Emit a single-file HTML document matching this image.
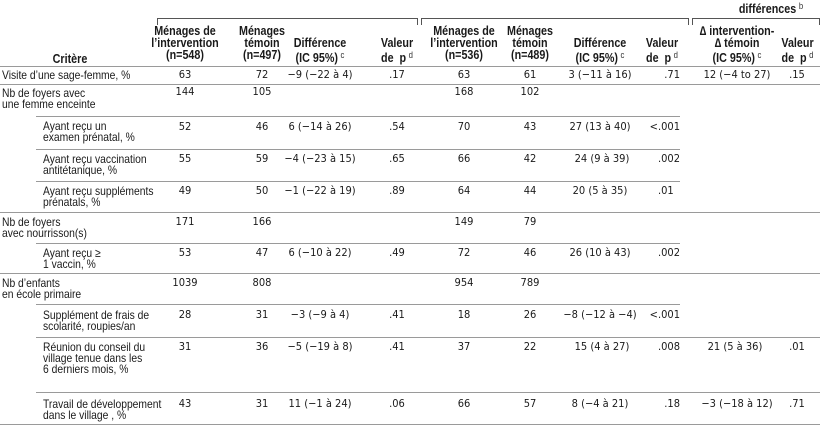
<!DOCTYPE html>
<html><head><meta charset="utf-8"><style>
body{margin:0;width:820px;height:427px;background:#fff;position:relative;overflow:hidden;font-family:"Liberation Sans",sans-serif;color:#1a1a1a}
.t{position:absolute;font-size:12px;line-height:11px;white-space:nowrap;transform:scaleX(0.86);transform-origin:left top}
.h{position:absolute;font-size:12.5px;font-weight:bold;line-height:12px;text-align:center;white-space:nowrap;transform:scaleX(0.86);transform-origin:center top}
.n{position:absolute;font-family:"DejaVu Sans Condensed","DejaVu Sans",sans-serif;font-size:11px;line-height:12px;text-align:center;width:100px;white-space:nowrap}
.l{position:absolute;height:1px;background:#9a9a9a}
sup{font-size:9px;font-weight:normal;vertical-align:4px;margin-left:3px;color:#333}
.br{position:absolute;top:18px;height:6px;border:1px solid #555;border-bottom:none}
</style></head><body>
<div class="h" style="top:0;width:90px;left:726px">différences<sup>b</sup></div>
<div class="br" style="left:157px;width:259px"></div>
<div class="br" style="left:421px;width:266px"></div>
<div class="br" style="left:692px;width:126px"></div>

<div class="h" style="left:35px;top:53px;width:70px">Critère</div>
<div class="h" style="left:105px;top:25px;width:160px">Ménages de<br>l’intervention<br>(n=548)</div>
<div class="h" style="left:212px;top:25px;width:100px">Ménages<br>témoin<br>(n=497)</div>
<div class="h" style="left:265px;top:37px;width:110px">Différence<br>(IC 95%)<sup>c</sup></div>
<div class="h" style="left:362px;top:37px;width:70px">Valeur<br>de &nbsp;p<sup>d</sup></div>
<div class="h" style="left:384px;top:25px;width:160px">Ménages de<br>l’intervention<br>(n=536)</div>
<div class="h" style="left:480px;top:25px;width:100px">Ménages<br>témoin<br>(n=489)</div>
<div class="h" style="left:545px;top:37px;width:110px">Différence<br>(IC 95%)<sup>c</sup></div>
<div class="h" style="left:627px;top:37px;width:70px">Valeur<br>de &nbsp;p<sup>d</sup></div>
<div class="h" style="left:672px;top:25px;width:130px">∆ intervention-<br>∆ témoin<br>(IC 95%)<sup>c</sup></div>
<div class="h" style="left:765px;top:37px;width:65px">Valeur<br>de &nbsp;p<sup>d</sup></div>

<div class="l" style="left:0;width:820px;top:66px"></div>
<div class="l" style="left:0;width:820px;top:84px"></div>
<div class="l" style="left:36px;width:644px;top:116px"></div>
<div class="l" style="left:36px;width:644px;top:149px"></div>
<div class="l" style="left:36px;width:644px;top:181px"></div>
<div class="l" style="left:0;width:820px;top:212px"></div>
<div class="l" style="left:36px;width:644px;top:243px"></div>
<div class="l" style="left:0;width:820px;top:273px"></div>
<div class="l" style="left:36px;width:644px;top:304px"></div>
<div class="l" style="left:36px;width:784px;top:337px"></div>
<div class="l" style="left:36px;width:784px;top:392px"></div>
<div class="l" style="left:0;width:820px;top:424px"></div>

<div class="t" style="left:2px;top:70px">Visite d’une sage-femme, %</div>
<div class="t" style="left:2px;top:88px">Nb de foyers avec<br>une femme enceinte</div>
<div class="t" style="left:43px;top:121px">Ayant reçu un<br>examen prénatal, %</div>
<div class="t" style="left:43px;top:154px">Ayant reçu vaccination<br>antitétanique, %</div>
<div class="t" style="left:43px;top:186px">Ayant reçu suppléments<br>prénatals, %</div>
<div class="t" style="left:2px;top:217px">Nb de foyers<br>avec nourrisson(s)</div>
<div class="t" style="left:43px;top:248px">Ayant reçu ≥<br>1 vaccin, %</div>
<div class="t" style="left:2px;top:278px">Nb d’enfants<br>en école primaire</div>
<div class="t" style="left:43px;top:310px">Supplément de frais de<br>scolarité, roupies/an</div>
<div class="t" style="left:43px;top:342px">Réunion du conseil du<br>village tenue dans les<br>6 derniers mois, %</div>
<div class="t" style="left:43px;top:399px">Travail de développement<br>dans le village , %</div>

<div class="n" style="left:135px;top:69px">63</div><div class="n" style="left:212px;top:69px">72</div><div class="n" style="left:270px;top:69px">−9 (−22 à 4)</div><div class="n" style="left:347px;top:69px">.17</div>
<div class="n" style="left:414px;top:69px">63</div><div class="n" style="left:480px;top:69px">61</div><div class="n" style="left:550px;top:69px">3 (−11 à 16)</div><div class="n" style="left:580px;top:69px;text-align:right">.71</div><div class="n" style="left:687px;top:69px">12 (−4 to 27)</div><div class="n" style="left:747px;top:69px">.15</div>

<div class="n" style="left:135px;top:86px">144</div><div class="n" style="left:212px;top:86px">105</div><div class="n" style="left:414px;top:86px">168</div><div class="n" style="left:480px;top:86px">102</div>

<div class="n" style="left:135px;top:121px">52</div><div class="n" style="left:212px;top:121px">46</div><div class="n" style="left:270px;top:121px">6 (−14 à 26)</div><div class="n" style="left:347px;top:121px">.54</div>
<div class="n" style="left:414px;top:121px">70</div><div class="n" style="left:480px;top:121px">43</div><div class="n" style="left:550px;top:121px">27 (13 à 40)</div><div class="n" style="left:580px;top:121px;text-align:right">&lt;.001</div>

<div class="n" style="left:135px;top:153px">55</div><div class="n" style="left:212px;top:153px">59</div><div class="n" style="left:270px;top:153px">−4 (−23 à 15)</div><div class="n" style="left:347px;top:153px">.65</div>
<div class="n" style="left:414px;top:153px">66</div><div class="n" style="left:480px;top:153px">42</div><div class="n" style="left:552px;top:153px">24 (9 à 39)</div><div class="n" style="left:580px;top:153px;text-align:right">.002</div>

<div class="n" style="left:135px;top:185px">49</div><div class="n" style="left:212px;top:185px">50</div><div class="n" style="left:270px;top:185px">−1 (−22 à 19)</div><div class="n" style="left:347px;top:185px">.89</div>
<div class="n" style="left:414px;top:185px">64</div><div class="n" style="left:480px;top:185px">44</div><div class="n" style="left:550px;top:185px">20 (5 à 35)</div><div class="n" style="left:658px;top:185px;text-align:left">.01</div>

<div class="n" style="left:135px;top:216px">171</div><div class="n" style="left:212px;top:216px">166</div><div class="n" style="left:414px;top:216px">149</div><div class="n" style="left:480px;top:216px">79</div>

<div class="n" style="left:135px;top:247px">53</div><div class="n" style="left:212px;top:247px">47</div><div class="n" style="left:270px;top:247px">6 (−10 à 22)</div><div class="n" style="left:347px;top:247px">.49</div>
<div class="n" style="left:414px;top:247px">72</div><div class="n" style="left:480px;top:247px">46</div><div class="n" style="left:550px;top:247px">26 (10 à 43)</div><div class="n" style="left:580px;top:247px;text-align:right">.002</div>

<div class="n" style="left:135px;top:277px">1039</div><div class="n" style="left:212px;top:277px">808</div><div class="n" style="left:414px;top:277px">954</div><div class="n" style="left:480px;top:277px">789</div>

<div class="n" style="left:135px;top:309px">28</div><div class="n" style="left:212px;top:309px">31</div><div class="n" style="left:270px;top:309px">−3 (−9 à 4)</div><div class="n" style="left:347px;top:309px">.41</div>
<div class="n" style="left:414px;top:309px">18</div><div class="n" style="left:480px;top:309px">26</div><div class="n" style="left:550px;top:309px">−8 (−12 à −4)</div><div class="n" style="left:580px;top:309px;text-align:right">&lt;.001</div>

<div class="n" style="left:135px;top:341px">31</div><div class="n" style="left:212px;top:341px">36</div><div class="n" style="left:270px;top:341px">−5 (−19 à 8)</div><div class="n" style="left:347px;top:341px">.41</div>
<div class="n" style="left:414px;top:341px">37</div><div class="n" style="left:480px;top:341px">22</div><div class="n" style="left:552px;top:341px">15 (4 à 27)</div><div class="n" style="left:580px;top:341px;text-align:right">.008</div><div class="n" style="left:685px;top:341px">21 (5 à 36)</div><div class="n" style="left:747px;top:341px">.01</div>

<div class="n" style="left:135px;top:398px">43</div><div class="n" style="left:212px;top:398px">31</div><div class="n" style="left:270px;top:398px">11 (−1 à 24)</div><div class="n" style="left:347px;top:398px">.06</div>
<div class="n" style="left:414px;top:398px">66</div><div class="n" style="left:480px;top:398px">57</div><div class="n" style="left:550px;top:398px">8 (−4 à 21)</div><div class="n" style="left:580px;top:398px;text-align:right">.18</div><div class="n" style="left:687px;top:398px">−3 (−18 à 12)</div><div class="n" style="left:747px;top:398px">.71</div>
</body></html>
